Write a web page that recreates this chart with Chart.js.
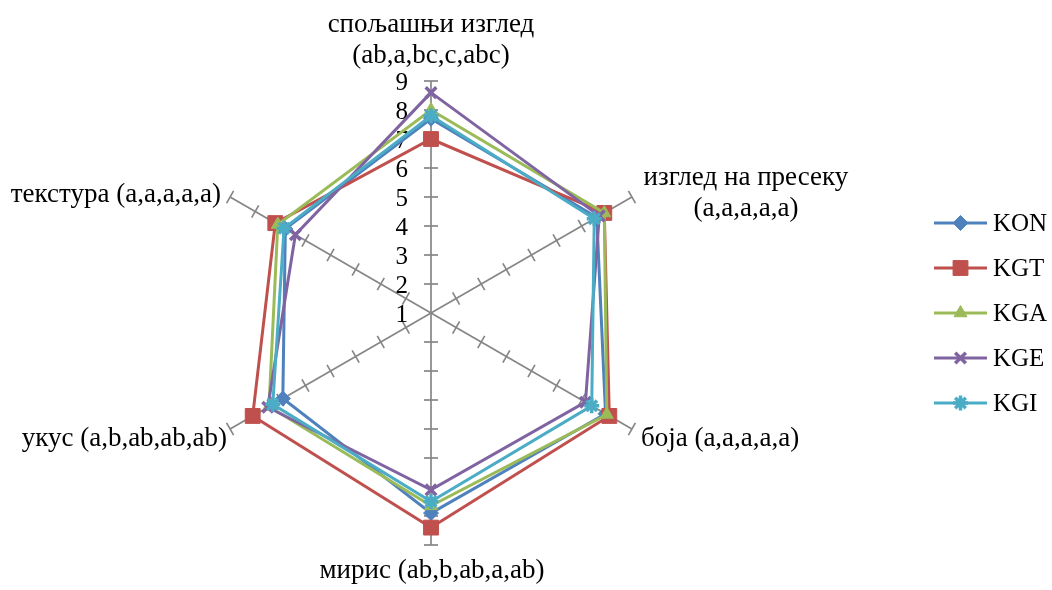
<!DOCTYPE html>
<html><head><meta charset="utf-8">
<script src="https://cdn.jsdelivr.net/npm/chart.js@4"></script>
<style>html,body{margin:0;padding:0;background:#fff}#wrap{width:1052px;height:590px}</style>
</head><body><div id="wrap"><canvas id="c" width="1052" height="590"></canvas></div>
<script>
// ---- data ----
const categories = [
  ['спољашњи изглед', '(ab,a,bc,c,abc)'],
  ['изглед на пресеку', '(a,a,a,a,a)'],
  ['боја (a,a,a,a,a)'],
  ['мирис (ab,b,ab,a,ab)'],
  ['укус (a,b,ab,ab,ab)'],
  ['текстура (a,a,a,a,a)']
];
const seriesNames = ['KON', 'KGT', 'KGA', 'KGE', 'KGI'];
const KON = [7.7, 7.6, 7.95, 7.9, 6.9, 6.8];
const KGT = [7.0, 7.9, 8.1, 8.4, 8.1, 7.2];
const KGA = [8.0, 7.9, 8.0, 7.65, 7.45, 7.1];
const KGE = [8.6, 7.7, 7.15, 7.1, 7.5, 6.4];
const KGI = [7.8, 7.5, 7.4, 7.5, 7.3, 6.85];
const tickLabels = ['1', '2', '3', '4', '5', '6', '7', '8', '9'];

// ---- styles ----
const seriesData = [KON, KGT, KGA, KGE, KGI];
const colors = ['#4F81BD', '#C0504D', '#9BBB59', '#8064A2', '#4BACC6'];
const pStyles = ['rectRot', 'rect', 'triangle', 'crossRot', 'star'];
const pRadius = [7.5, 10.5, 7.5, 7.5, 7.5];
const SERIF = '"Liberation Serif", "Times New Roman", serif';

const datasets = seriesNames.map((n, i) => ({
  label: n,
  data: seriesData[i],
  borderColor: colors[i],
  backgroundColor: colors[i],
  pointBackgroundColor: colors[i],
  pointBorderColor: colors[i],
  pointStyle: pStyles[i],
  pointRadius: pRadius[i],
  pointHoverRadius: pRadius[i],
  pointBorderWidth: (pStyles[i] === 'crossRot' || pStyles[i] === 'star') ? 3.5 : 1,
  borderWidth: 3,
  fill: false,
  tension: 0,
  order: seriesNames.length - i
}));

// label placement relative to axis end
const labelPlace = [
  { dx: 0, dy: -49, align: 'center' },
  { dx: 114, dy: -12, align: 'center' },
  { dx: 9, dy: 17, align: 'left' },
  { dx: 1, dy: 33, align: 'center' },
  { dx: -3, dy: 17, align: 'right' },
  { dx: -9, dy: 5, align: 'right' }
];
const lineH = 31;

const decor = {
  id: 'decor',
  beforeDatasetsDraw(chart) {
    const s = chart.scales.r, ctx = chart.ctx;
    ctx.save();
    ctx.strokeStyle = '#868686';
    ctx.lineWidth = 1.7;
    const n = chart.data.labels.length;
    for (let i = 0; i < n; i++) {
      const a = s.getIndexAngle(i) - Math.PI / 2;
      const px = -Math.sin(a), py = Math.cos(a);
      for (let k = 1; k < tickLabels.length; k++) {
        const v = Number(tickLabels[k]);
        const p = s.getPointPositionForValue(i, v);
        ctx.beginPath();
        ctx.moveTo(p.x - px * 7, p.y - py * 7);
        ctx.lineTo(p.x + px * 7, p.y + py * 7);
        ctx.stroke();
      }
    }
    // tick labels
    ctx.fillStyle = '#000';
    ctx.font = '25px ' + SERIF;
    ctx.textAlign = 'right';
    ctx.textBaseline = 'middle';
    tickLabels.forEach(t => {
      const p = s.getPointPositionForValue(0, Number(t));
      ctx.fillText(t, p.x - 23, p.y + 2);
    });
    ctx.restore();
  },
  afterDraw(chart) {
    const s = chart.scales.r, ctx = chart.ctx;
    ctx.save();
    ctx.fillStyle = '#000';
    ctx.font = '27px ' + SERIF;
    ctx.textBaseline = 'alphabetic';
    categories.forEach((lines, i) => {
      const p = s.getPointPositionForValue(i, s.max);
      const pl = labelPlace[i];
      ctx.textAlign = pl.align;
      lines.forEach((ln, j) => ctx.fillText(ln, p.x + pl.dx, p.y + pl.dy + j * lineH));
    });
    // legend
    const lx0 = 934, lx1 = 987, ly0 = 223, lgap = 45;
    ctx.font = '25px ' + SERIF;
    ctx.textAlign = 'left';
    ctx.textBaseline = 'middle';
    chart.data.datasets.forEach((d, i) => {
      const y = ly0 + i * lgap;
      ctx.strokeStyle = d.borderColor;
      ctx.lineWidth = 3;
      ctx.beginPath(); ctx.moveTo(lx0, y); ctx.lineTo(lx1, y); ctx.stroke();
      ctx.fillStyle = d.pointBackgroundColor;
      ctx.strokeStyle = d.pointBorderColor;
      ctx.lineWidth = d.pointBorderWidth;
      Chart.helpers.drawPoint(ctx, { pointStyle: d.pointStyle, radius: d.pointRadius, rotation: 0, borderWidth: d.pointBorderWidth }, (lx0 + lx1) / 2, y);
      ctx.fillStyle = '#000';
      ctx.fillText(d.label, 993, y + 1);
    });
    ctx.restore();
  }
};

new Chart(document.getElementById('c'), {
  type: 'radar',
  data: { labels: categories.map(l => l.join(' ')), datasets },
  options: {
    responsive: false,
    animation: false,
    devicePixelRatio: 1,
    layout: { padding: { left: 199, top: 81, right: 388, bottom: 44 } },
    plugins: { legend: { display: false }, tooltip: { enabled: false } },
    elements: { line: { tension: 0 } },
    scales: {
      r: {
        min: 1, max: 9,
        startAngle: 0,
        ticks: { display: false, stepSize: 1 },
        grid: { display: false },
        angleLines: { display: true, color: '#868686', lineWidth: 1.7 },
        pointLabels: { display: false }
      }
    }
  },
  plugins: [decor]
});
</script>
</body></html>
